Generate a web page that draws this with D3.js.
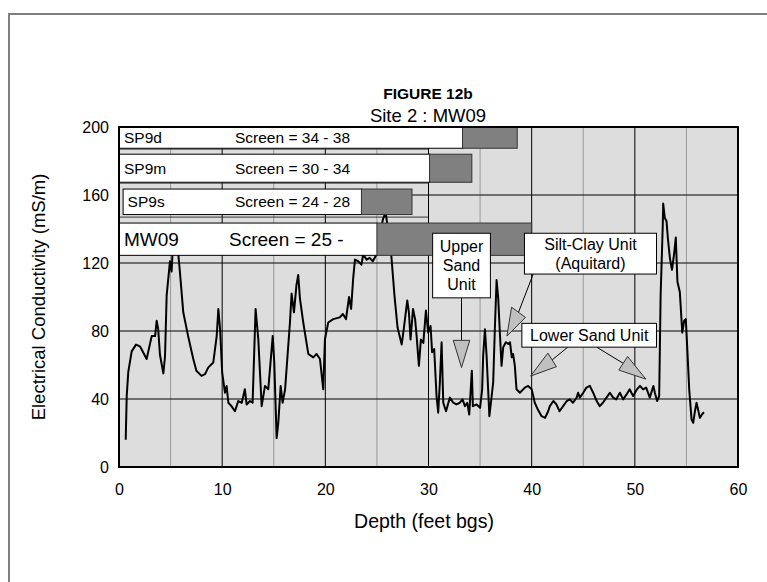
<!DOCTYPE html>
<html>
<head>
<meta charset="utf-8">
<script src="https://cdn.jsdelivr.net/npm/d3@7"></script>
<style>
  body { margin: 0; background: #fff; }
  svg { display: block; font-family: Arial, "Liberation Sans", sans-serif; }
</style>
</head>
<body>
<div id="chart"></div>
<script>
// conductivity log
const depth = [0.65, 0.75, 0.9, 1.23, 1.65, 2.03, 2.68, 3.17, 3.5, 3.65, 3.8, 3.97, 4.3, 4.46, 4.62, 4.94, 5.1, 5.3, 5.5, 5.75,
  5.9, 6.23, 6.7, 7.2, 7.5, 8.0, 8.33, 8.66, 9.14, 9.47, 9.63, 9.8, 10.0, 10.27, 10.43, 10.6, 10.9, 11.24, 11.56, 11.9,
  12.2, 12.37, 12.7, 12.95, 13.24, 13.5, 13.83, 14.15, 14.47, 14.9, 15.05, 15.28, 15.44, 15.67, 15.86, 16.1, 16.57, 16.73, 16.96, 17.2,
  17.37, 17.54, 17.86, 18.35, 18.83, 19.15, 19.48, 19.8, 19.96, 20.28, 20.77, 21.4, 21.7, 22.0, 22.3, 22.5, 22.7, 22.87, 23.2, 23.5,
  23.67, 24.0, 24.3, 24.6, 24.97, 25.3, 25.6, 25.85, 26.1, 26.4, 26.7, 27.0, 27.4, 27.6, 27.94, 28.1, 28.26, 28.5, 28.7, 28.85,
  29.07, 29.26, 29.5, 29.75, 29.97, 30.2, 30.35, 30.55, 30.78, 30.94, 31.1, 31.27, 31.43, 31.7, 32.07, 32.4, 32.7, 33.04, 33.3, 33.53,
  33.76, 33.95, 34.2, 34.3, 34.66, 35.0, 35.2, 35.3, 35.47, 35.63, 35.9, 36.05, 36.27, 36.43, 36.6, 36.76, 36.9, 37.08, 37.24, 37.5,
  37.73, 37.9, 38.07, 38.2, 38.37, 38.53, 38.86, 39.34, 39.66, 40.0, 40.3, 40.6, 40.96, 41.3, 41.6, 41.76, 42.1, 42.4, 42.7, 43.05,
  43.4, 43.7, 44.0, 44.36, 44.5, 44.67, 45.0, 45.3, 45.64, 45.96, 46.3, 46.6, 46.9, 47.25, 47.58, 47.9, 48.2, 48.55, 48.87, 49.2,
  49.5, 49.84, 50.2, 50.5, 50.8, 51.1, 51.45, 51.8, 51.94, 52.16, 52.36, 52.5, 52.7, 52.75, 52.9, 53.07, 53.2, 53.4, 53.6, 53.8,
  53.97, 54.13, 54.36, 54.6, 54.78, 54.94, 55.07, 55.27, 55.5, 55.66, 55.8, 55.98, 56.13, 56.3, 56.5, 56.7];
const ec = [16, 42, 56, 68, 72, 71, 63.5, 77, 77, 86, 81, 66, 55, 65, 101, 121, 115, 140, 138, 125,
  115, 91, 77, 63.5, 56.6, 53.6, 54.6, 58.6, 61.5, 77, 93, 81, 55.6, 43.7, 47.7, 37.8, 35.8, 32.8, 38.8, 37.8,
  45.7, 36.8, 38.8, 37.8, 93, 75.4, 35.8, 47.7, 45.7, 77, 61.5, 17, 26, 47.7, 37.8, 45.7, 85, 102, 91, 107,
  113, 99, 85, 66.5, 64.5, 66.5, 63.5, 45.7, 75, 85, 87, 88, 90, 87, 100, 93, 111, 122, 121, 119,
  125, 122, 123, 121, 125, 138, 146, 150, 138, 124, 101, 82, 72, 81, 98, 91, 75, 93, 87, 77,
  59.5, 75, 73, 92, 79, 83, 67.5, 69.4, 41.7, 31.9, 49.7, 73.4, 37.8, 32.8, 40.8, 37.8, 36.8, 37.8, 39.8, 35.8,
  37.8, 30.9, 56.6, 35.8, 36.8, 34.8, 45.7, 65.5, 81, 65.5, 29.9, 37.8, 49.7, 81, 110, 99, 81, 59.5, 70.4, 73.4,
  72.4, 73.4, 64.5, 66.5, 59.5, 45.7, 43.7, 46.7, 47.7, 45.7, 37.8, 33.8, 29.9, 28.9, 32.8, 35.8, 38.8, 36.8, 32.8, 35.8,
  38.8, 39.8, 37.8, 40.8, 43.7, 40.8, 43.7, 46.7, 47.7, 43.7, 38.8, 35.8, 37.8, 40.8, 43.7, 40.8, 39.8, 43.7, 39.8, 42.7,
  45.7, 41.7, 45.7, 47.7, 45.7, 46.7, 40.8, 47.7, 43.7, 38.8, 41.7, 101, 140.6, 155, 146.6, 144.6, 134.7, 122.8, 116, 125,
  135, 109, 103, 79, 86, 87, 71.4, 45.7, 27.9, 26, 31.9, 37.8, 33.8, 28.9, 30.9, 32.2];

const xTicks = [0, 10, 20, 30, 40, 50, 60];
const yTicks = [0, 40, 80, 120, 160, 200];

// well screen bars (depth in x, conductivity band in y)
const wellNames = ["SP9d", "SP9m", "SP9s", "MW09"];
const wellScreens = ["Screen = 34 - 38", "Screen = 30 - 34", "Screen = 24 - 28", "Screen = 25 -"];
const wellStart = [0, 0, 0.35, 0];
const screenTop = [33.3, 30.1, 23.5, 25.0];
const screenBottom = [38.6, 34.2, 28.4, 40.0];
const bandHigh = [200, 184, 163.5, 143.5];
const bandLow = [187.5, 167.5, 148.5, 124.5];
const insetLines = [187, 167, 147, 127];

// callout boxes
const noteLines = [["Upper", "Sand", "Unit"], ["Silt-Clay Unit", "(Aquitard)"], ["Lower Sand Unit"]];
const noteX0 = [30.4, 39.3, 39.05];
const noteX1 = [36.0, 52.1, 52.1];
const noteY0 = [137.5, 137.5, 84.5];
const noteY1 = [99.5, 113.5, 70.5];
// arrows: line start, arrowhead base corners and tip
const arrowFrom = [[33.2, 99.5], [40.15, 113.5], [43.5, 70.5], [46.3, 70.5]];
const arrowBaseA = [[32.4, 74.5], [38.05, 94], [41.57, 67], [49.3, 65]];
const arrowBaseB = [[34.0, 74.5], [39.4, 88], [42.4, 59], [48.45, 57]];
const arrowTip = [[33.2, 58.5], [37.6, 77], [39.9, 53.5], [51.07, 51.7]];

const W = 767, H = 582;
const m = {left: 119, right: 738, top: 127, bottom: 467};

const svg = d3.select("#chart").append("svg")
    .attr("width", W)
    .attr("height", H);

// outer frame
svg.append("rect")
    .attr("x", 9).attr("y", 14)
    .attr("width", 800).attr("height", 620)
    .attr("fill", "none")
    .attr("stroke", "#7f7f7f")
    .attr("stroke-width", 2);

svg.append("text")
    .attr("x", 428).attr("y", 99)
    .attr("text-anchor", "middle")
    .style("font-size", "15.5px")
    .style("font-weight", "bold")
    .text("FIGURE 12b");

svg.append("text")
    .attr("x", 428).attr("y", 122)
    .attr("text-anchor", "middle")
    .style("font-size", "18.5px")
    .text("Site 2 : MW09");

const x = d3.scaleLinear().domain([0, 60]).range([m.left, m.right]);
const y = d3.scaleLinear().domain([0, 200]).range([m.bottom, m.top]);

svg.append("rect")
    .attr("x", m.left).attr("y", m.top)
    .attr("width", m.right - m.left).attr("height", m.bottom - m.top)
    .attr("fill", "#dddddd");

// vertical grid every 5 ft
const vg = d3.range(5, 60, 5);
svg.append("g").selectAll("line")
    .data(vg)
    .join("line")
    .attr("x1", d => x(d)).attr("x2", d => x(d))
    .attr("y1", m.top).attr("y2", m.bottom)
    .attr("stroke", d => d % 10 === 0 ? "#000" : "#999")
    .attr("stroke-width", 1);

// horizontal grid
svg.append("g").selectAll("line")
    .data([40, 80, 120, 160])
    .join("line")
    .attr("x1", d => d === 160 ? x(28.4) : m.left)
    .attr("x2", m.right)
    .attr("y1", d => y(d)).attr("y2", d => y(d))
    .attr("stroke", "#000")
    .attr("stroke-width", 1);

// the pasted-in well panel has its own grid lines
svg.append("g").selectAll("line")
    .data(insetLines)
    .join("line")
    .attr("x1", m.left).attr("x2", x(30))
    .attr("y1", d => y(d)).attr("y2", d => y(d))
    .attr("stroke", "#333")
    .attr("stroke-width", 1);

const line = d3.line()
    .x(d => x(d[0]))
    .y(d => y(d[1]));

svg.append("path")
    .datum(depth.map((d, i) => [d, ec[i]]))
    .attr("d", line)
    .attr("fill", "none")
    .attr("stroke", "#000")
    .attr("stroke-width", 2)
    .attr("stroke-linejoin", "round");

// well bars
const bars = svg.append("g");
wellNames.forEach((nm, i) => {
    bars.append("rect")
        .attr("x", x(wellStart[i]) + 0.5)
        .attr("y", y(bandHigh[i]))
        .attr("width", x(screenTop[i]) - x(wellStart[i]))
        .attr("height", y(bandLow[i]) - y(bandHigh[i]))
        .attr("fill", "#fff")
        .attr("stroke", "#000")
        .attr("stroke-width", 1);
    bars.append("rect")
        .attr("x", x(screenTop[i]))
        .attr("y", y(bandHigh[i]))
        .attr("width", x(screenBottom[i]) - x(screenTop[i]))
        .attr("height", y(bandLow[i]) - y(bandHigh[i]))
        .attr("fill", "#808080")
        .attr("stroke", "#333")
        .attr("stroke-width", 1);
    const big = nm === "MW09";
    const cy = (y(bandHigh[i]) + y(bandLow[i])) / 2;
    bars.append("text")
        .attr("x", x(wellStart[i]) + 5)
        .attr("y", cy)
        .attr("dy", "0.36em")
        .style("font-size", big ? "19px" : "15.5px")
        .text(nm);
    bars.append("text")
        .attr("x", big ? 229 : 235)
        .attr("y", cy)
        .attr("dy", "0.36em")
        .style("font-size", big ? "19px" : "15.5px")
        .text(wellScreens[i]);
});

// arrows
const ann = svg.append("g");
arrowFrom.forEach((f, i) => {
    const a = arrowBaseA[i], b = arrowBaseB[i], t = arrowTip[i];
    ann.append("line")
        .attr("x1", x(f[0])).attr("y1", y(f[1]))
        .attr("x2", x((a[0] + b[0]) / 2)).attr("y2", y((a[1] + b[1]) / 2))
        .attr("stroke", "#000")
        .attr("stroke-width", 1);
    ann.append("path")
        .attr("d", d3.line()([[x(a[0]), y(a[1])], [x(b[0]), y(b[1])], [x(t[0]), y(t[1])]]) + "Z")
        .attr("fill", "#c0c0c0")
        .attr("stroke", "#333")
        .attr("stroke-width", 1);
});

noteLines.forEach((ls, i) => {
    ann.append("rect")
        .attr("x", x(noteX0[i])).attr("y", y(noteY0[i]))
        .attr("width", x(noteX1[i]) - x(noteX0[i]))
        .attr("height", y(noteY1[i]) - y(noteY0[i]))
        .attr("fill", "#fff")
        .attr("stroke", "#000")
        .attr("stroke-width", 1);
    const cx = (x(noteX0[i]) + x(noteX1[i])) / 2;
    const cy = (y(noteY0[i]) + y(noteY1[i])) / 2;
    ls.forEach((t, j) => {
        ann.append("text")
            .attr("x", cx)
            .attr("y", cy + (j - (ls.length - 1) / 2) * 19)
            .attr("dy", "0.36em")
            .attr("text-anchor", "middle")
            .style("font-size", "16px")
            .text(t);
    });
});

// plot border
svg.append("rect")
    .attr("x", m.left).attr("y", m.top)
    .attr("width", m.right - m.left).attr("height", m.bottom - m.top)
    .attr("fill", "none")
    .attr("stroke", "#000")
    .attr("stroke-width", 2);

// axes (labels only, no tick marks)
svg.append("g")
    .attr("transform", `translate(0,${m.bottom})`)
    .call(d3.axisBottom(x).tickValues(xTicks).tickSize(0).tickPadding(17))
    .call(g => g.select(".domain").remove())
    .selectAll("text")
    .style("font-size", "16px")
    .style("font-family", "Arial, 'Liberation Sans', sans-serif")
    .attr("fill", "#000");

svg.append("g")
    .attr("transform", `translate(${m.left},0)`)
    .call(d3.axisLeft(y).tickValues(yTicks).tickSize(0).tickPadding(10))
    .call(g => g.select(".domain").remove())
    .selectAll("text")
    .style("font-size", "16px")
    .style("font-family", "Arial, 'Liberation Sans', sans-serif")
    .attr("fill", "#000");

svg.append("text")
    .attr("x", 424).attr("y", 528)
    .attr("text-anchor", "middle")
    .style("font-size", "19.5px")
    .text("Depth (feet bgs)");

svg.append("text")
    .attr("transform", "translate(45,297) rotate(-90)")
    .attr("text-anchor", "middle")
    .style("font-size", "18.5px")
    .text("Electrical Conductivity (mS/m)");
</script>
</body>
</html>
